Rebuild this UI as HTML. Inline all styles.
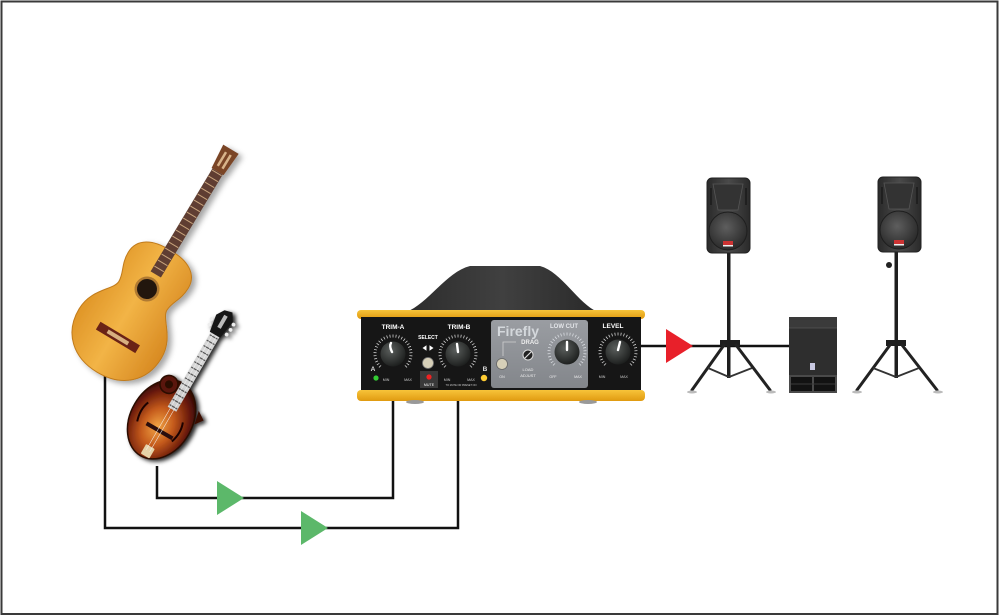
<!DOCTYPE html>
<html><head><meta charset="utf-8"><style>
html,body{margin:0;padding:0;background:#fff;}
svg{display:block;}
text{font-family:"Liberation Sans",sans-serif;}
</style></head><body>
<svg width="1000" height="616" viewBox="0 0 1000 616" xmlns="http://www.w3.org/2000/svg">
<defs>
 <linearGradient id="gBody" x1="0" y1="0" x2="1" y2="0">
  <stop offset="0" stop-color="#e09628"/><stop offset=".45" stop-color="#f2b446"/><stop offset="1" stop-color="#d88a22"/>
 </linearGradient>
 <radialGradient id="mBody" cx=".5" cy=".6" r=".6">
  <stop offset="0" stop-color="#f2a444"/><stop offset=".4" stop-color="#c45a1c"/><stop offset=".78" stop-color="#6a1a0a"/><stop offset="1" stop-color="#2a0804"/>
 </radialGradient>
 <radialGradient id="knob" cx=".4" cy=".35" r=".7">
  <stop offset="0" stop-color="#5a5e5c"/><stop offset="1" stop-color="#1a1c1b"/>
 </radialGradient>
 <linearGradient id="dome" x1="0" y1="0" x2="1" y2="0">
  <stop offset="0" stop-color="#2c2c2c"/><stop offset=".5" stop-color="#404040"/><stop offset="1" stop-color="#2a2a2a"/>
 </linearGradient>
 <linearGradient id="yel" x1="0" y1="0" x2="0" y2="1">
  <stop offset="0" stop-color="#f7c43a"/><stop offset="1" stop-color="#e09a10"/>
 </linearGradient>
 <linearGradient id="spk" x1="0" y1="0" x2="1" y2="0">
  <stop offset="0" stop-color="#2a2a2a"/><stop offset=".5" stop-color="#4a4a4a"/><stop offset="1" stop-color="#2a2a2a"/>
 </linearGradient>
 <radialGradient id="woof" cx=".45" cy=".4" r=".6">
  <stop offset="0" stop-color="#5e5e5e"/><stop offset="1" stop-color="#2a2a2a"/>
 </radialGradient>
 <linearGradient id="panel" x1="0" y1="0" x2="0" y2="1">
  <stop offset="0" stop-color="#9a9da2"/><stop offset="1" stop-color="#83868b"/>
 </linearGradient>
 <filter id="sh" x="-30%" y="-30%" width="160%" height="160%"><feDropShadow dx="4" dy="3" stdDeviation="3" flood-color="#000" flood-opacity=".35"/></filter>
 <filter id="msh" x="-30%" y="-30%" width="160%" height="160%"><feDropShadow dx="3" dy="2" stdDeviation="2" flood-color="#000" flood-opacity=".85"/></filter>
</defs>

<rect x="1.5" y="1.5" width="996" height="612.5" fill="#fff" stroke="#3a3a3a" stroke-width="2"/>

<!-- cables -->
<path d="M157,466 V498 H393 V398" fill="none" stroke="#111" stroke-width="2.5"/>
<path d="M105,370 V528 H458 V398" fill="none" stroke="#111" stroke-width="2.5"/>
<path d="M641,346 H790" fill="none" stroke="#111" stroke-width="2.5"/>

<polygon points="217,481 217,515 244,498" fill="#5cb86a"/>
<polygon points="301,511 301,545 328,528" fill="#5cb86a"/>
<polygon points="666,329 666,363 693,346" fill="#e8202a"/>

<!-- guitar -->
<g filter="url(#sh)"><g transform="translate(147,289) rotate(31)">
  <path d="M0,-45 C20,-46 35,-38 35,-22 C35,-8 28,-2 28,8 C28,18 48,28 48,52 C48,80 28,97 0,97 C-28,97 -48,80 -48,52 C-48,28 -28,18 -28,8 C-28,-2 -35,-8 -35,-22 C-35,-38 -20,-46 0,-45 Z" fill="url(#gBody)" stroke="#c07a1a" stroke-width="1"/>
  <rect x="-6" y="-137" width="12" height="120" fill="#5e3e30"/>
  <line x1="0" y1="-136" x2="0" y2="-18" stroke="#c9a47e" stroke-width="11" stroke-dasharray="1 6"/>
  <path d="M-7,-137 L7,-137 L9,-163 L-9,-163 Z" fill="#7a4428"/>
  <rect x="-4" y="-158" width="2.5" height="16" fill="#d8b48a"/>
  <rect x="1.5" y="-158" width="2.5" height="16" fill="#d8b48a"/>
  <circle r="12.5" fill="#b07a30"/>
  <circle r="10" fill="#231810"/>
  <rect x="-23" y="52" width="46" height="9" fill="#6a2416"/>
  <rect x="-12" y="54.5" width="24" height="4" fill="#d8b080"/>
</g></g>

<!-- mandolin -->
<g filter="url(#msh)"><g transform="translate(145,456) rotate(30)">
  <ellipse cx="-4" cy="-40" rx="31" ry="42" fill="url(#mBody)" stroke="#2a0a04" stroke-width="1.5"/>
  <circle cx="-15" cy="-74" r="9" fill="#5a1408" stroke="#2a0a04" stroke-width="1.5"/>
  <circle cx="-15" cy="-74" r="4" fill="#2a0804"/>
  <path d="M24,-66 L33,-60 L27,-52 Z" fill="#3a0c05"/>
  <path d="M-24,-48 q-4,10 0,22" stroke="#1a0602" stroke-width="2" fill="none"/>
  <path d="M16,-48 q4,10 0,22" stroke="#1a0602" stroke-width="2" fill="none"/>
  <rect x="-15" y="-31" width="30" height="4" fill="#2a1008"/>
  <rect x="-5" y="-11" width="10" height="11" rx="1" fill="#e6d3a8"/>
  <rect x="-5" y="-80" width="10" height="26" fill="#cfcfcf"/>
  <rect x="-5" y="-140" width="10" height="62" fill="#d6d6d6"/>
  <line x1="0" y1="-138" x2="0" y2="-56" stroke="#555" stroke-width="9" stroke-dasharray="1.2 5"/>
  <line x1="-2" y1="-6" x2="-2" y2="-140" stroke="#f4f4f4" stroke-width=".5"/>
  <line x1="2" y1="-6" x2="2" y2="-140" stroke="#f4f4f4" stroke-width=".5"/>
  <path d="M-6,-140 L6,-140 L9,-160 L4,-168 L-4,-166 L-9,-158 Z" fill="#151515"/>
  <circle cx="10" cy="-146" r="1.8" fill="#eee"/><circle cx="11" cy="-152" r="1.8" fill="#eee"/><circle cx="11" cy="-158" r="1.8" fill="#eee"/>
  <circle cx="-10" cy="-146" r="1.8" fill="#eee"/><circle cx="-11" cy="-152" r="1.8" fill="#eee"/>
  <rect x="-2" y="-162" width="4" height="14" fill="#bbb"/>
</g></g>

<!-- device -->
<path d="M406,312 C428,304 446,272 470,266 L540,266 C562,272 578,304 598,312 Z" fill="url(#dome)"/>
<rect x="357" y="310" width="288" height="9" rx="4" fill="url(#yel)"/>
<rect x="361" y="317" width="280" height="75" fill="#161616"/>
<rect x="357" y="390" width="288" height="11" rx="4" fill="url(#yel)"/>
<ellipse cx="415" cy="402" rx="9" ry="2" fill="#999"/>
<ellipse cx="588" cy="402" rx="9" ry="2" fill="#999"/>
<rect x="491" y="320" width="97" height="68" rx="3" fill="url(#panel)"/>

<!-- tick arcs -->
<g fill="none" stroke-dasharray="0.8 2.2" stroke-width="3">
 <path d="M380.3,366.7 A18,18 0 1 1 405.7,366.7" stroke="#d0d0d0"/>
 <path d="M445.3,366.7 A18,18 0 1 1 470.7,366.7" stroke="#d0d0d0"/>
 <path d="M554.3,364.7 A18,18 0 1 1 579.7,364.7" stroke="#d8dbe0"/>
 <path d="M605.3,364.7 A18,18 0 1 1 630.7,364.7" stroke="#d0d0d0"/>
</g>
<circle cx="393" cy="354" r="12.5" fill="url(#knob)"/>
<circle cx="458" cy="354" r="12.5" fill="url(#knob)"/>
<circle cx="567" cy="352" r="12.5" fill="url(#knob)"/>
<circle cx="618" cy="352" r="12.5" fill="url(#knob)"/>
<g stroke="#fff" stroke-width="2.4" stroke-linecap="round">
 <path d="M392,352 Q389,346 391,343" fill="none"/>
 <line x1="458" y1="352" x2="457" y2="344"/>
 <line x1="567" y1="350" x2="567" y2="342"/>
 <line x1="618" y1="350" x2="620" y2="342"/>
</g>

<g font-weight="bold" text-anchor="middle" fill="#fff">
 <text x="393" y="329" font-size="6.5">TRIM-A</text>
 <text x="459" y="329" font-size="6.5">TRIM-B</text>
 <text x="428" y="339" font-size="5">SELECT</text>
 <text x="613" y="328" font-size="6.5">LEVEL</text>
 <text x="564" y="328" font-size="6" fill="#e4e6ea">LOW CUT</text>
 <text x="530" y="344" font-size="6" fill="#eee">DRAG</text>
 <text x="373" y="371" font-size="6.5" fill="#ddd">A</text>
 <text x="485" y="371" font-size="6.5" fill="#ddd">B</text>
</g>
<text x="497" y="336" font-size="14" font-weight="bold" fill="#d4d8dc">Firefly</text>
<polygon points="422.5,348 426.5,345.2 426.5,350.8" fill="#fff"/>
<polygon points="433.5,348 429.5,345.2 429.5,350.8" fill="#fff"/>
<circle cx="428" cy="363" r="5.5" fill="#d6cfb8" stroke="#777" stroke-width=".8"/>
<circle cx="376" cy="378" r="2.6" fill="#3c3"/>
<rect x="420" y="371" width="18" height="17" fill="#3a3a3a"/>
<circle cx="429" cy="377" r="2.6" fill="#e22"/>
<circle cx="484" cy="378" r="3.2" fill="#fc3"/>
<path d="M503,356 V342 H516" fill="none" stroke="#d0d0d0" stroke-width=".8"/>
<circle cx="502" cy="364" r="5.5" fill="#d6cfb8" stroke="#666" stroke-width=".8"/>
<circle cx="528" cy="355" r="5" fill="#222" stroke="#ddd" stroke-width="1"/>
<line x1="525" y1="358" x2="531" y2="352" stroke="#ddd" stroke-width="1.2"/>

<g font-size="3.6" text-anchor="middle" fill="#ccc">
 <text x="386" y="381">MIN</text><text x="408" y="381">MAX</text>
 <text x="447" y="381">MIN</text><text x="471" y="381">MAX</text>
 <text x="429" y="386" fill="#fff">MUTE</text>
 <text x="461" y="386" font-size="2.5">TO MUTE OR PRESET ON</text>
 <text x="502" y="378" fill="#eee">ON</text>
 <text x="528" y="371" font-size="4" fill="#eee">LOAD</text>
 <text x="528" y="377" font-size="4" fill="#eee">ADJUST</text>
 <text x="553" y="378" fill="#eee">OFF</text><text x="578" y="378" fill="#eee">MAX</text>
 <text x="602" y="378">MIN</text><text x="624" y="378">MAX</text>
</g>

<!-- left speaker -->
<g>
 <rect x="727" y="252" width="3.5" height="126" fill="#1e1e1e"/>
 <rect x="707" y="178" width="43" height="75" rx="5" fill="url(#spk)" stroke="#222" stroke-width="1"/>
 <path d="M713,184 L743,184 L738,210 L718,210 Z" fill="#333" stroke="#555" stroke-width=".8"/>
 <line x1="711" y1="188" x2="711" y2="205" stroke="#1a1a1a" stroke-width="1.5"/>
 <line x1="746" y1="188" x2="746" y2="205" stroke="#1a1a1a" stroke-width="1.5"/>
 <circle cx="728" cy="231" r="19" fill="url(#woof)" stroke="#1e1e1e" stroke-width="1"/>
 <rect x="723" y="241" width="10" height="4" fill="#c33"/>
 <rect x="723" y="245" width="10" height="1.5" fill="#eee"/>
 <rect x="720" y="340" width="20" height="6" fill="#1e1e1e"/>
 <g stroke="#222" stroke-width="3" stroke-linecap="round">
  <line x1="724" y1="345" x2="692" y2="390"/>
  <line x1="736" y1="345" x2="770" y2="390"/>
 </g>
 <g stroke="#333" stroke-width="1.8">
  <line x1="708" y1="368" x2="729" y2="377"/>
  <line x1="752" y1="368" x2="729" y2="377"/>
 </g>
 <ellipse cx="692" cy="392" rx="5" ry="1.5" fill="#bbb"/>
 <ellipse cx="771" cy="392" rx="5" ry="1.5" fill="#bbb"/>
</g>

<!-- right speaker -->
<g>
 <rect x="894.5" y="251" width="3.5" height="127" fill="#1e1e1e"/>
 <circle cx="889" cy="265" r="3" fill="#222"/>
 <rect x="878" y="177" width="43" height="75" rx="5" fill="url(#spk)" stroke="#222" stroke-width="1"/>
 <path d="M884,183 L914,183 L909,209 L889,209 Z" fill="#333" stroke="#555" stroke-width=".8"/>
 <line x1="882" y1="187" x2="882" y2="204" stroke="#1a1a1a" stroke-width="1.5"/>
 <line x1="917" y1="187" x2="917" y2="204" stroke="#1a1a1a" stroke-width="1.5"/>
 <circle cx="899" cy="230" r="19" fill="url(#woof)" stroke="#1e1e1e" stroke-width="1"/>
 <rect x="894" y="240" width="10" height="4" fill="#c33"/>
 <rect x="894" y="244" width="10" height="1.5" fill="#eee"/>
 <rect x="886" y="340" width="20" height="6" fill="#1e1e1e"/>
 <g stroke="#222" stroke-width="3" stroke-linecap="round">
  <line x1="890" y1="345" x2="857" y2="390"/>
  <line x1="902" y1="345" x2="937" y2="390"/>
 </g>
 <g stroke="#333" stroke-width="1.8">
  <line x1="873" y1="368" x2="896" y2="377"/>
  <line x1="919" y1="368" x2="896" y2="377"/>
 </g>
 <ellipse cx="857" cy="392" rx="5" ry="1.5" fill="#bbb"/>
 <ellipse cx="938" cy="392" rx="5" ry="1.5" fill="#bbb"/>
</g>

<!-- subwoofer -->
<g>
 <rect x="789" y="317" width="48" height="76" fill="#2e2e2e"/>
 <rect x="789" y="317" width="48" height="11" fill="#3a3a3a"/>
 <line x1="789" y1="328" x2="837" y2="328" stroke="#555" stroke-width=".8"/>
 <rect x="810" y="363" width="5" height="7" fill="#c8c8e0"/>
 <rect x="789" y="375" width="48" height="18" fill="#4a4a4a"/>
 <rect x="791" y="377" width="21" height="14" fill="#121212"/>
 <rect x="814" y="377" width="21" height="14" fill="#121212"/>
 <line x1="791" y1="384" x2="835" y2="384" stroke="#3a3a3a" stroke-width="1"/>
</g>
</svg>
</body></html>
